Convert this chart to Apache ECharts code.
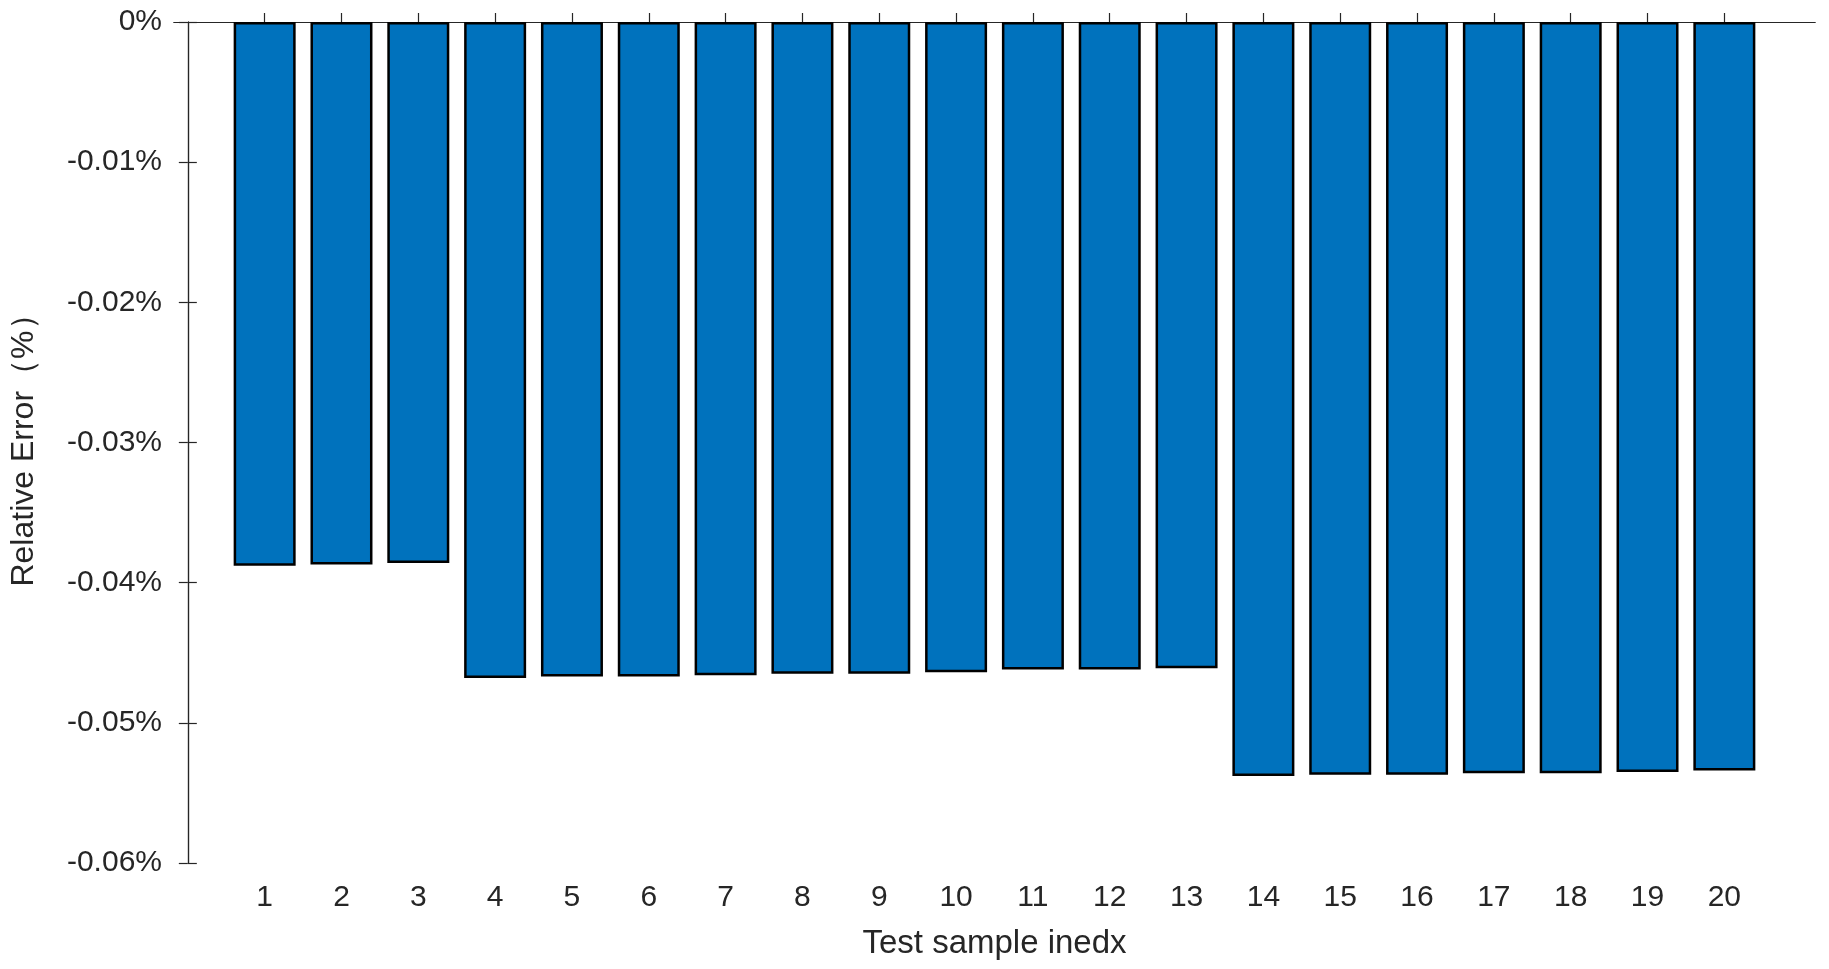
<!DOCTYPE html>
<html>
<head>
<meta charset="UTF-8">
<title></title>
<script src="https://cdn.jsdelivr.net/npm/echarts@6/dist/echarts.min.js"></script>
<style>html,body{margin:0;padding:0;background:#fff;}</style>
</head>
<body>
<div id="main" style="width:1829px;height:969px;"></div>
<script type="text/javascript">
var samples = [1,2,3,4,5,6,7,8,9,10,11,12,13,14,15,16,17,18,19,20];
var errors = [-0.0388,-0.0387,-0.0386,-0.0468,-0.0467,-0.0467,-0.0466,-0.0465,-0.0465,-0.0464,
              -0.0462,-0.0462,-0.0461,-0.0538,-0.0537,-0.0537,-0.0536,-0.0536,-0.0535,-0.0534];
var yTicks = [0,-0.01,-0.02,-0.03,-0.04,-0.05,-0.06];

var txt = '#262626', ax = '#262626';
var myChart = echarts.init(document.getElementById('main'));
var tickLine = {show:true, inside:true, length:9, lineStyle:{color:ax, width:1.2}};
myChart.setOption({
  animation: false,
  grid: {left:164, right:14, top:22, bottom:106},
  xAxis: [{
    type:'value', min:-0.18, max:21.18,
    name:'Test sample inedx', nameLocation:'middle', nameGap:64,
    nameTextStyle:{fontFamily:'Liberation Sans', fontSize:33, color:txt},
    axisLine:{lineStyle:{color:ax, width:1.2}},
    axisTick:Object.assign({customValues:samples}, tickLine),
    axisLabel:{customValues:samples, fontFamily:'Liberation Sans', fontSize:30, color:txt, margin:20},
    splitLine:{show:false}
  },{
    type:'value', position:'top', min:-0.18, max:21.18,
    axisLine:{lineStyle:{color:ax, width:1.2}},
    axisTick:Object.assign({customValues:samples}, tickLine),
    axisLabel:{show:false}, splitLine:{show:false}
  }],
  yAxis: [{
    type:'value', min:-0.06, max:0, interval:0.01,
    name:'Relative Error\uff08%\uff09', nameLocation:'middle', nameGap:134,
    nameTextStyle:{fontFamily:'Liberation Sans', fontSize:32, color:txt},
    axisLine:{show:true, lineStyle:{color:ax, width:1.2}},
    axisTick:tickLine,
    axisLabel:{fontFamily:'Liberation Sans', fontSize:30, color:txt, margin:12,
      formatter:function(v){ return v === 0 ? '0%' : v.toFixed(2) + '%'; }},
    splitLine:{show:false}
  },{
    type:'value', position:'right', min:-0.06, max:0, interval:0.01,
    axisLine:{show:true, lineStyle:{color:ax, width:1.2}},
    axisTick:tickLine, axisLabel:{show:false}, splitLine:{show:false}
  }],
  series: [{
    type:'bar', xAxisIndex:0, yAxisIndex:0, barWidth:62,
    itemStyle:{color:'#0072BD', borderColor:'#000', borderWidth:2.5},
    data: samples.map(function(s,i){ return [s, errors[i]]; })
  }]
});
</script>
</body>
</html>
